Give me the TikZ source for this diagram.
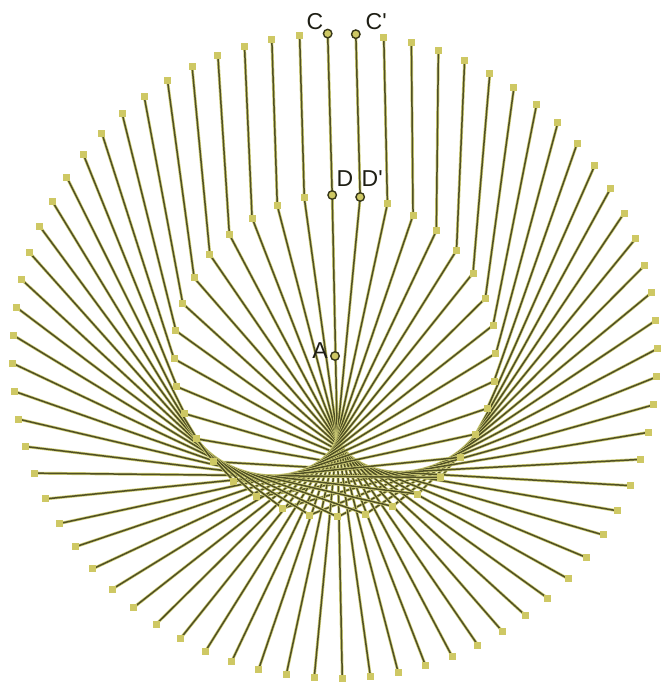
\documentclass[tikz,border=0pt]{standalone}
\usepackage{fontspec}
\setmainfont{Liberation Sans}
\definecolor{raycol}{RGB}{80,80,36}
\definecolor{halocol}{RGB}{208,206,120}
\definecolor{ptcol}{RGB}{206,200,100}
\definecolor{ptedge}{RGB}{55,55,25}
\definecolor{labelcol}{RGB}{30,30,20}
\begin{document}
\begin{tikzpicture}[x=1pt,y=-1pt,
  rayhalo/.style={line width=2.9pt, halocol},
  raycore/.style={line width=1.5pt, raycol},
  sqpt/.style={rectangle, fill=ptcol, minimum size=7pt, inner sep=0pt},
  dotpt/.style={circle, fill=ptcol, draw=ptedge, line width=1.4pt, minimum size=8.5pt, inner sep=0pt},
  lbl/.style={font=\fontsize{23}{23}\selectfont, text=labelcol, inner sep=0pt}]
\useasboundingbox (0,0) rectangle (664,683);
\coordinate (Actr) at (335,356);
\foreach \k in {0,...,71} {
  \pgfmathsetmacro\tt{-1.3+5*\k}
  \pgfmathsetmacro\uu{-1.0+10*\k}
  \coordinate (P\k) at ({335+322.5*sin(\tt)},{356-322.5*cos(\tt)});
  \coordinate (Q\k) at ({335+161*sin(\uu)},{356-161*cos(\uu)});
}
\foreach \k in {0,...,71} {
  \draw[rayhalo] (P\k) -- (Q\k);
  \draw[raycore] (P\k) -- (Q\k);
}
\foreach \k in {0,...,71} {
  \node[sqpt] (p\k) at (P\k) {};
  \node[sqpt] (q\k) at (Q\k) {};
}
\node[dotpt] (C) at (P0) {};
\node[dotpt] (Cp) at (P1) {};
\node[dotpt] (D) at (Q0) {};
\node[dotpt] (Dp) at (Q1) {};
\node[dotpt] (A) at (Actr) {};
\node[lbl] (Cl) at (315,22) {C};
\node[lbl, anchor=west] (Cpl) at (365.5,22) {C\textquotesingle};
\node[lbl] (Dl) at (345,178.5) {D};
\node[lbl, anchor=west] (Dpl) at (361.5,179) {D\textquotesingle};
\node[lbl] (Al) at (320,351) {A};
\end{tikzpicture}
\end{document}
